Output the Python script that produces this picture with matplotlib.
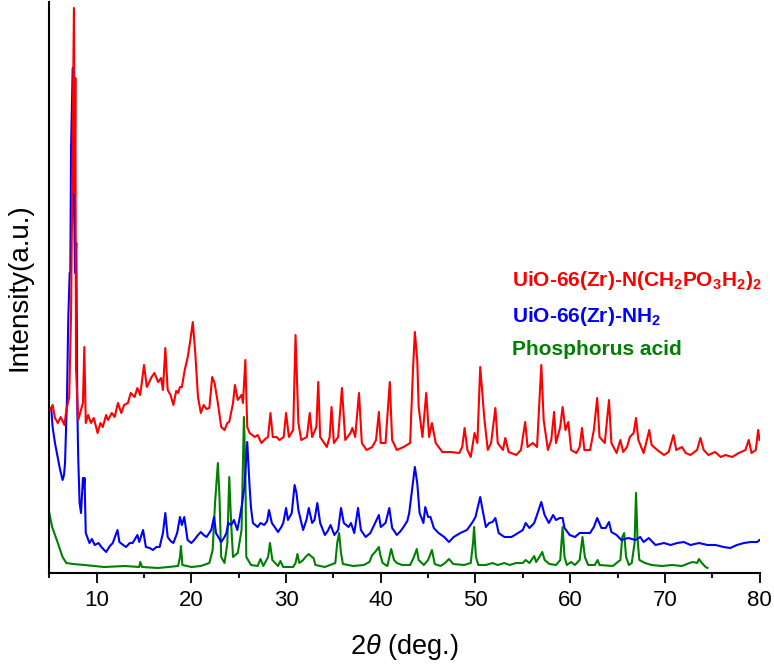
import matplotlib
matplotlib.use("Agg")
import matplotlib.pyplot as plt
from matplotlib.ticker import MultipleLocator

plt.rcParams['font.family'] = ['Liberation Sans', 'DejaVu Sans']
plt.rcParams['mathtext.fontset'] = 'custom'
plt.rcParams['mathtext.rm'] = 'Liberation Sans'
plt.rcParams['mathtext.it'] = 'Liberation Sans:italic'
plt.rcParams['mathtext.bf'] = 'Liberation Sans:bold'

# ---- data (2theta in degrees, intensity in arbitrary units) ----
red_pts = [(5.1,163),(5.35,168),(5.6,155),(5.9,150),(6.2,156),(6.6,148),(6.8,163),(7.1,176),
 (7.3,260),(7.6,565),(7.68,380),(7.75,495),(7.82,205),(8.05,153),(8.35,163),(8.55,170),(8.7,226),
 (8.85,150),(9.1,158),(9.4,150),(9.7,155),(10.1,140),(10.4,150),(10.65,146),(11.0,158),(11.2,153),
 (11.6,160),(11.9,156),(12.25,170),(12.6,160),(12.9,168),(13.3,170),(13.6,180),(14.0,176),(14.3,185),
 (14.6,178),(15.0,208),(15.3,186),(15.8,196),(16.1,200),(16.5,191),(16.8,195),(17.0,183),(17.25,225),
 (17.5,183),(17.8,178),(18.1,168),(18.4,182),(18.6,180),(18.8,186),(19.0,186),(19.3,203),(19.6,215),
 (19.85,230),(20.15,251),(20.4,222),(20.7,176),(21.0,160),(21.3,168),(21.6,164),(21.9,165),(22.2,196),
 (22.45,190),(22.8,170),(23.15,146),(23.5,143),(23.8,150),(24.0,151),(24.4,170),(24.6,188),(24.9,173),
 (25.3,178),(25.45,170),(25.7,213),(25.9,146),(26.15,140),(26.7,136),(27.0,138),(27.4,130),(27.8,134),
 (28.1,136),(28.35,160),(28.6,136),(29.0,136),(29.3,133),(29.75,136),(30.0,160),(30.3,136),(30.75,143),
 (31.0,238),(31.3,150),(31.6,133),(32.2,136),(32.5,160),(32.75,136),(33.2,146),(33.4,191),(33.6,136),
 (34.3,126),(34.6,136),(34.8,166),(35.05,130),(35.5,136),(35.9,185),(36.25,133),(36.8,140),(37.0,145),
 (37.3,136),(37.7,180),(38.0,130),(38.5,123),(39.1,126),(39.5,133),(39.8,161),(40.0,130),(40.5,130),
 (40.95,191),(41.2,133),(41.7,123),(42.4,126),(43.1,130),(43.4,203),(43.6,241),(43.85,213),(44.0,166),
 (44.4,136),(44.8,180),(45.1,136),(45.4,150),(45.8,130),(46.5,121),(47.4,121),(48.3,120),(48.6,126),
 (48.85,145),(49.15,123),(49.5,116),(49.9,140),(50.2,130),(50.5,206),(50.95,153),(51.3,123),(51.65,130),
 (52.1,165),(52.35,130),(52.9,123),(53.15,135),(53.5,121),(54.3,118),(54.8,123),(55.25,151),(55.5,126),
 (56.05,130),(56.5,126),(56.7,163),(56.95,208),(57.2,153),(57.65,123),(58.0,133),(58.3,161),(58.5,130),
 (58.95,146),(59.2,166),(59.5,143),(59.8,151),(60.1,123),(60.65,120),(61.0,126),(61.25,145),(61.5,123),
 (62.1,123),(62.5,143),(62.85,175),(63.1,136),(63.65,130),(64.1,173),(64.35,130),(64.9,120),(65.3,133),
 (65.6,121),(66.0,126),(66.3,136),(66.7,140),(66.95,155),(67.2,133),(67.75,120),(68.1,133),(68.35,143),
 (68.6,128),(69.2,123),(69.9,118),(70.4,121),(70.9,138),(71.2,123),(71.8,126),(72.2,120),(72.7,118),
 (73.4,123),(73.75,135),(74.1,123),(74.6,118),(75.3,121),(75.9,116),(76.4,118),(77.1,116),(77.8,120),
 (78.5,123),(78.85,133),(79.15,120),(79.6,123),(79.85,143),(80.0,133)]

blue_pts = [(5.2,165),(5.35,146),(5.6,130),(5.88,116),(6.1,105),(6.4,93),(6.55,98),(6.66,110),(6.87,176),
 (7.0,253),(7.15,300),(7.22,301),(7.3,426),(7.47,505),(7.6,380),(7.72,300),(7.85,330),(7.96,163),
 (8.06,113),(8.2,70),(8.35,60),(8.55,95),(8.65,85),(8.72,95),(8.85,40),(9.24,30),(9.5,34),(9.8,28),
 (10.2,30),(10.5,26),(11.0,21),(11.4,27),(11.7,30),(12.2,43),(12.4,31),(12.8,28),(13.1,26),(13.5,30),
 (13.8,30),(14.3,38),(14.5,31),(14.9,43),(15.2,26),(15.6,25),(15.95,23),(16.3,26),(16.65,26),(17.0,40),
 (17.25,60),(17.5,36),(17.8,32),(18.1,30),(18.5,40),(18.8,56),(19.0,48),(19.25,56),(19.6,33),(20.0,30),
 (20.3,33),(20.7,38),(21.0,41),(21.3,38),(21.6,36),(22.1,43),(22.4,56),(22.6,40),(22.9,35),(23.15,31),
 (23.5,36),(23.7,40),(23.9,50),(24.2,48),(24.5,53),(24.85,43),(25.1,55),(25.3,66),(25.6,86),(25.9,131),
 (26.15,86),(26.3,65),(26.5,50),(27.0,46),(27.3,50),(27.7,48),(28.0,52),(28.2,63),(28.5,50),(28.8,46),
 (29.15,41),(29.5,46),(29.7,50),(30.0,65),(30.2,53),(30.6,60),(30.9,88),(31.1,80),(31.3,63),(31.8,43),
 (32.15,53),(32.4,65),(32.75,50),(33.0,53),(33.3,70),(33.6,50),(34.1,38),(34.4,42),(34.7,48),(35.1,38),
 (35.5,43),(35.8,65),(36.1,50),(36.6,46),(36.85,50),(37.2,40),(37.6,65),(37.9,43),(38.4,36),(38.9,40),
 (39.4,50),(39.8,58),(40.0,46),(40.5,50),(40.9,65),(41.2,45),(41.7,38),(42.1,42),(42.4,46),(42.8,52),
 (43.0,60),(43.3,83),(43.6,106),(43.85,90),(44.1,60),(44.5,50),(44.7,66),(45.0,56),(45.25,56),(45.6,45),
 (46.1,40),(46.7,36),(47.2,31),(47.7,36),(48.4,40),(49.1,43),(49.7,51),(50.0,56),(50.25,66),(50.5,76),
 (50.75,63),(51.1,46),(51.45,50),(51.8,51),(52.1,55),(52.45,40),(53.05,36),(53.8,36),(54.5,40),(55.0,43),
 (55.3,50),(55.7,45),(56.2,50),(56.6,61),(56.95,71),(57.3,58),(57.75,50),(58.2,58),(58.5,53),(58.9,55),
 (59.2,55),(59.4,45),(59.95,38),(60.5,36),(61.0,40),(61.5,40),(62.1,40),(62.5,46),(62.85,55),(63.3,45),
 (63.75,45),(64.1,51),(64.35,41),(64.9,38),(65.4,33),(66.15,35),(66.9,33),(67.4,36),(67.75,31),(68.3,35),
 (69.0,28),(69.9,30),(70.6,28),(71.3,30),(72.0,31),(72.7,28),(73.6,30),(74.5,28),(75.35,28),(76.2,26),
 (76.9,25),(77.6,28),(78.35,30),(79.05,31),(79.75,31),(80.0,33)]

green_pts = [(5.0,60),(5.3,46),(5.9,30),(6.4,16),(6.8,10),(7.5,9),(8.7,8),(10.8,6),(13.0,7),(14.5,6),
 (14.6,11),(14.8,6),(16.5,5),(18.6,7),(18.8,16),(18.9,27),(19.05,8),(20.0,6),(21.0,7),(21.9,10),(22.25,23),
 (22.5,70),(22.8,110),(22.97,76),(23.15,16),(23.5,10),(23.8,30),(24.0,96),(24.2,50),(24.4,16),(24.9,20),
 (25.3,43),(25.55,156),(25.7,103),(25.8,16),(26.3,8),(27.0,7),(27.3,14),(27.6,7),(28.1,16),(28.3,30),
 (28.55,13),(29.15,7),(29.4,12),(29.7,6),(30.75,6),(31.0,10),(31.2,19),(31.4,10),(31.8,13),(32.05,16),
 (32.4,19),(32.6,17),(32.9,15),(33.1,8),(34.1,6),(35.2,10),(35.4,30),(35.6,40),(35.8,20),(36.0,9),
 (37.1,7),(38.2,8),(38.8,11),(39.1,18),(39.4,21),(39.8,26),(39.95,18),(40.2,10),(40.7,7),(41.1,24),
 (41.4,13),(41.7,10),(42.25,8),(43.1,8),(43.5,16),(43.8,24),(44.0,13),(44.55,8),(45.0,13),(45.4,23),
 (45.7,9),(46.3,7),(46.8,10),(47.2,14),(47.65,9),(48.8,8),(49.5,10),(49.75,31),(49.85,46),(50.05,16),
 (50.3,8),(51.1,8),(51.8,10),(52.35,8),(53.05,10),(53.6,8),(54.3,10),(55.0,10),(55.3,13),(55.7,10),
 (56.2,17),(56.4,11),(56.75,16),(57.05,21),(57.3,13),(57.8,9),(58.5,8),(58.95,13),(59.2,46),(59.4,16),
 (59.65,8),(60.1,11),(60.5,8),(61.0,13),(61.3,36),(61.55,16),(61.9,8),(62.6,8),(62.9,13),(63.1,8),
 (64.5,7),(65.3,13),(65.5,36),(65.7,40),(65.9,16),(66.2,8),(66.5,10),(66.8,30),(66.95,80),(67.1,36),
 (67.3,13),(67.9,10),(68.6,8),(69.7,7),(70.75,8),(71.8,7),(72.6,10),(72.95,11),(73.4,10),(73.6,14),
 (73.9,10),(74.3,6),(74.5,5)]

red_x = [p[0] for p in red_pts]
red_y = [p[1] for p in red_pts]
blue_x = [p[0] for p in blue_pts]
blue_y = [p[1] for p in blue_pts]
green_x = [p[0] for p in green_pts]
green_y = [p[1] for p in green_pts]

labels = [r'UiO-66(Zr)-N(CH$_\mathbf{2}$PO$_\mathbf{3}$H$_\mathbf{2}$)$_\mathbf{2}$',
          r'UiO-66(Zr)-NH$_\mathbf{2}$',
          'Phosphorus acid']
colors = ['#ff0000', '#0000ff', '#008000']
x_ticks = [10, 20, 30, 40, 50, 60, 70, 80]

fig = plt.figure(figsize=(7.74, 6.66), dpi=100)
ax = fig.add_axes([49.3/774, 93/666, 710.3/774, 571/666])

ax.plot(green_x, green_y, color=colors[2], lw=1.5, zorder=2)
ax.plot(blue_x, blue_y, color=colors[1], lw=1.5, zorder=3)
ax.plot(red_x, red_y, color=colors[0], lw=1.5, zorder=4)

ax.set_xlim(5, 80)
ax.set_ylim(0, 571)
ax.set_xticks(x_ticks)
ax.xaxis.set_minor_locator(MultipleLocator(5))
ax.set_yticks([])
for s in ['top', 'right']:
    ax.spines[s].set_visible(False)
for s in ['left', 'bottom']:
    ax.spines[s].set_linewidth(1.5)
ax.tick_params(axis='x', which='major', direction='out', length=7, width=1.3, labelsize=16, pad=5.5)
ax.tick_params(axis='x', which='minor', direction='out', length=3.6, width=1.3)

ax.set_xlabel(r'2$\mathit{\theta}$ (deg.)', fontsize=19.5)
ax.xaxis.set_label_coords(0.5, -0.103)
ax.set_ylabel('Intensity(a.u.)', fontsize=20)
ax.yaxis.set_label_coords(-0.023, 0.5)

baselines = [285.7, 321.7, 355.0]
for lab, col, yb in zip(labels, colors, baselines):
    fig.text(512/774, 1 - yb/666, lab, color=col, fontsize=15, fontweight='bold',
             ha='left', va='baseline')

fig.savefig('out.png', dpi=100)
